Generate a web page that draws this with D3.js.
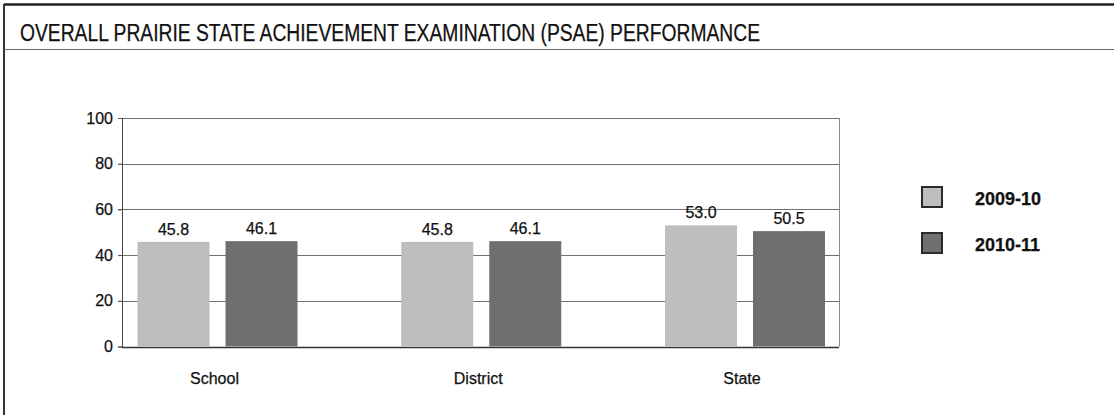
<!DOCTYPE html>
<html lang="en">
<head>
  <meta charset="UTF-8">
  <title>Overall PSAE Performance</title>
  <script src="https://d3js.org/d3.v7.min.js"></script>
  <style>
    body { margin: 0; background: #fff; }
    text { font-family: Arial, "Liberation Sans", sans-serif; fill: #111; stroke: #111; stroke-width: 0.25px; }
    .grid line { stroke: #707070; stroke-width: 1; }
    .axis-label { font-size: 16px; }
  </style>
</head>
<body>
  <div id="chart"></div>

  <script>
    const categories = ["School", "District", "State"];
    const years = ["2009-10", "2010-11"];
    const values2009 = [45.8, 45.8, 53.0];
    const values2010 = [46.1, 46.1, 50.5];
    const yTicks = [0, 20, 40, 60, 80, 100];
    const title = "OVERALL PRAIRIE STATE ACHIEVEMENT EXAMINATION (PSAE) PERFORMANCE";

    const colors = { "2009-10": "#bebebe", "2010-11": "#6f6f6f" };

    const W = 1114, H = 415;
    const plot = { left: 122, right: 839, top: 118, bottom: 346.5 };

    const svg = d3.select("#chart").append("svg")
      .attr("width", W)
      .attr("height", H);

    // frame + title
    svg.append("line").attr("x1", 4).attr("x2", W).attr("y1", 4.5).attr("y2", 4.5)
      .attr("stroke", "#222").attr("stroke-width", 2.5);
    svg.append("line").attr("x1", 4).attr("x2", 4).attr("y1", 4).attr("y2", H)
      .attr("stroke", "#333").attr("stroke-width", 2);
    svg.append("line").attr("x1", 4).attr("x2", W).attr("y1", 49.5).attr("y2", 49.5)
      .attr("stroke", "#666").attr("stroke-width", 1);
    svg.append("text")
      .attr("x", 20).attr("y", 40.5)
      .attr("font-size", "23.5px")
      .attr("stroke-width", 0.5)
      .attr("textLength", 740)
      .attr("lengthAdjust", "spacingAndGlyphs")
      .text(title);

    const y = d3.scaleLinear().domain([0, 100]).range([plot.bottom, plot.top]);
    const x0 = d3.scalePoint().domain(categories).range([217.5, 745]);
    const x1 = d3.scaleBand().domain(years).range([-80, 80]).paddingInner(0.182);

    // gridlines
    const grid = svg.append("g").attr("class", "grid");
    grid.selectAll("line")
      .data(yTicks.filter(d => d > 0))
      .enter().append("line")
      .attr("x1", plot.left - 4).attr("x2", plot.right)
      .attr("y1", d => Math.round(y(d)) + 0.5)
      .attr("y2", d => Math.round(y(d)) + 0.5);

    // plot border right
    svg.append("line")
      .attr("x1", plot.right + 0.5).attr("x2", plot.right + 0.5)
      .attr("y1", y(100)).attr("y2", y(0))
      .attr("stroke", "#8a8a8a");

    // y axis
    const yAxis = svg.append("g")
      .attr("transform", `translate(${plot.left},0)`)
      .call(d3.axisLeft(y).tickValues(yTicks).tickSize(4).tickPadding(5));
    yAxis.select(".domain").attr("stroke", "#444");
    yAxis.selectAll(".tick line").attr("stroke", "#555");
    yAxis.selectAll("text").attr("font-size", "16px").attr("fill", "#111")
      .attr("font-family", "Arial, 'Liberation Sans', sans-serif");

    // baseline
    svg.append("line")
      .attr("x1", plot.left).attr("x2", plot.right)
      .attr("y1", Math.round(y(0)) + 0.5).attr("y2", Math.round(y(0)) + 0.5)
      .attr("stroke", "#333").attr("stroke-width", 1.5);

    // bars
    const rows = categories.map((c, i) => ({
      category: c,
      items: [
        { year: years[0], value: values2009[i] },
        { year: years[1], value: values2010[i] }
      ]
    }));

    const groups = svg.selectAll(".group")
      .data(rows)
      .enter().append("g")
      .attr("class", "group")
      .attr("transform", d => `translate(${x0(d.category)},0)`);

    groups.selectAll("rect")
      .data(d => d.items)
      .enter().append("rect")
      .attr("x", d => x1(d.year))
      .attr("width", x1.bandwidth())
      .attr("y", d => y(d.value))
      .attr("height", d => y(0) - y(d.value))
      .attr("fill", d => colors[d.year]);

    groups.selectAll(".value")
      .data(d => d.items)
      .enter().append("text")
      .attr("class", "value")
      .attr("x", d => x1(d.year) + x1.bandwidth() / 2)
      .attr("y", d => y(d.value) - 7)
      .attr("text-anchor", "middle")
      .attr("font-size", "16px")
      .text(d => d.value.toFixed(1));

    // category labels
    svg.selectAll(".cat")
      .data(categories)
      .enter().append("text")
      .attr("class", "axis-label")
      .attr("x", d => x0(d) - 3)
      .attr("y", 384)
      .attr("text-anchor", "middle")
      .text(d => d);

    // legend
    const legend = svg.selectAll(".legend")
      .data(years)
      .enter().append("g")
      .attr("transform", (d, i) => `translate(921,${186 + i * 46})`);

    legend.append("rect")
      .attr("x", 1).attr("y", 1)
      .attr("width", 20).attr("height", 20)
      .attr("fill", d => colors[d])
      .attr("stroke", "#2a2a2a")
      .attr("stroke-width", 2);

    legend.append("text")
      .attr("x", 54).attr("y", 19)
      .attr("font-size", "18px")
      .attr("font-weight", "bold")
      .text(d => d);
  </script>
</body>
</html>
